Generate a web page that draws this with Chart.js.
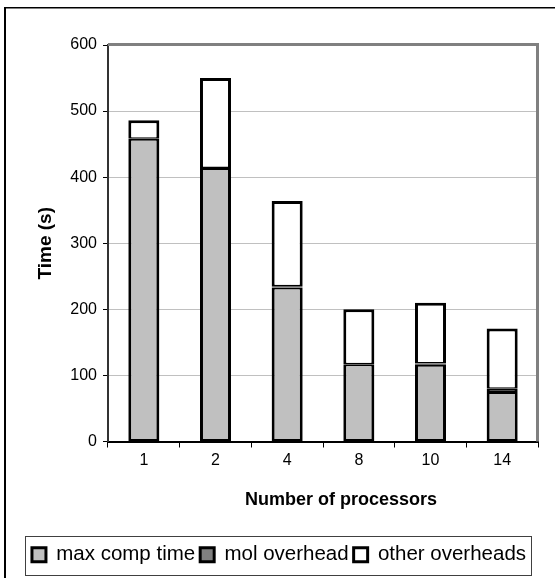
<!DOCTYPE html>
<html>
<head>
<meta charset="utf-8">
<script src="https://cdn.jsdelivr.net/npm/chart.js@4.4.1/dist/chart.umd.min.js"></script>
<style>
  html, body { margin: 0; padding: 0; background: #fff; }
  canvas { display: block; }
</style>
</head>
<body>
<canvas id="chart" width="555" height="578"></canvas>
<script>
// Run time per processor count, split into computation and overheads (seconds)
const processors = ['1', '2', '4', '8', '10', '14'];
const maxCompTime = [458, 414, 233, 117, 116, 75];
const molOverhead = [0, 0, 2, 0, 2, 5];
const otherOverheads = [28, 136, 129, 83, 92, 91];
const timeTicks = [0, 100, 200, 300, 400, 500, 600];
const seriesNames = ['max comp time', 'mol overhead', 'other overheads'];
const xTitle = 'Number of processors';

Chart.defaults.font.family = "'Liberation Sans', Arial, sans-serif";
Chart.defaults.color = '#000';

// White page with the frame line along the left and top
const pageFrame = {
  id: 'pageFrame',
  beforeDraw(chart) {
    const ctx = chart.ctx;
    ctx.save();
    ctx.fillStyle = '#fff';
    ctx.fillRect(0, 0, chart.width, chart.height);
    ctx.fillStyle = '#000';
    ctx.fillRect(4, 7, 2, chart.height);
    ctx.fillRect(4, 7, chart.width, 1.5);
    ctx.restore();
  }
};

// Grey outline on the top and right of the plot area, box around the legend,
// and the x-axis title set a little right of the plot centre
const plotOutline = {
  id: 'plotOutline',
  afterDraw(chart) {
    const ctx = chart.ctx;
    const a = chart.chartArea;
    ctx.save();
    ctx.strokeStyle = '#808080';
    ctx.lineWidth = 3;
    ctx.beginPath();
    ctx.moveTo(a.left, a.top - 0.5);
    ctx.lineTo(a.right - 0.5, a.top - 0.5);
    ctx.lineTo(a.right - 0.5, a.bottom);
    ctx.stroke();

    const xs = chart.scales.x;
    ctx.fillStyle = '#000';
    ctx.font = "bold 18px 'Liberation Sans', Arial, sans-serif";
    ctx.textAlign = 'center';
    ctx.textBaseline = 'middle';
    ctx.fillText(xTitle, (xs.left + xs.right) / 2 + 18, xs.top + 59);

    const boxes = chart.legend.legendHitBoxes;
    if (boxes && boxes.length) {
      let l = Infinity, r = -Infinity, t = Infinity, b = -Infinity;
      boxes.forEach(h => {
        l = Math.min(l, h.left); r = Math.max(r, h.left + h.width);
        t = Math.min(t, h.top); b = Math.max(b, h.top + h.height);
      });
      ctx.strokeStyle = '#404040';
      ctx.lineWidth = 1;
      ctx.strokeRect(Math.round(l - 7) + 0.5, Math.round(t - 9) + 0.5,
                     Math.round(r - l + 12), Math.round(b - t + 18));
    }
    ctx.restore();
  }
};

const barBase = {
  borderColor: '#000',
  borderSkipped: false,
  barPercentage: 0.433,
  categoryPercentage: 1.0
};

new Chart(document.getElementById('chart'), {
  type: 'bar',
  data: {
    labels: processors,
    datasets: [
      Object.assign({}, barBase, {
        label: seriesNames[0],
        data: maxCompTime,
        backgroundColor: '#c0c0c0',
        borderWidth: { top: 2, left: 3, right: 3, bottom: 2 }
      }),
      Object.assign({}, barBase, {
        label: seriesNames[1],
        data: molOverhead,
        backgroundColor: '#808080',
        borderWidth: { top: 1.5, left: 3, right: 3, bottom: 1.5 }
      }),
      Object.assign({}, barBase, {
        label: seriesNames[2],
        data: otherOverheads,
        backgroundColor: '#ffffff',
        borderWidth: { top: 3, left: 3, right: 3, bottom: 1.5 }
      })
    ]
  },
  options: {
    responsive: false,
    animation: false,
    devicePixelRatio: 1,
    layout: { padding: { left: 20, right: 17, top: 45, bottom: 3 } },
    plugins: {
      tooltip: { enabled: false },
      legend: {
        position: 'bottom',
        labels: {
          boxWidth: 14,
          boxHeight: 14,
          padding: 5,
          color: '#000',
          font: { size: 20.5 },
          generateLabels(chart) {
            return chart.data.datasets.map((ds, i) => ({
              text: ds.label,
              fillStyle: ds.backgroundColor,
              strokeStyle: '#000',
              lineWidth: 3,
              hidden: false,
              datasetIndex: i,
              fontColor: '#000'
            }));
          }
        }
      }
    },
    scales: {
      x: {
        stacked: true,
        offset: true,
        grid: {
          display: true,
          offset: true,
          drawOnChartArea: false,
          drawTicks: true,
          tickLength: 6,
          color: '#000'
        },
        border: { display: true, color: '#000', width: 2 },
        ticks: { color: '#000', font: { size: 16 }, padding: 3 },
        title: { display: false },
        afterFit(scale) { scale.height = 98; }
      },
      y: {
        stacked: true,
        min: 0,
        max: 600,
        afterBuildTicks(scale) { scale.ticks = timeTicks.map(v => ({ value: v })); },
        grid: {
          color: '#c0c0c0',
          lineWidth: 1,
          tickColor: '#000',
          tickLength: 5
        },
        border: { display: true, color: '#333', width: 2 },
        ticks: { color: '#000', font: { size: 16 }, padding: 6 },
        title: {
          display: true,
          text: 'Time (s)',
          color: '#000',
          font: { size: 19, weight: 'bold' },
          padding: { top: 14, bottom: 0 }
        },
        afterFit(scale) { scale.width = 88; }
      }
    }
  },
  plugins: [pageFrame, plotOutline]
});
</script>
</body>
</html>
